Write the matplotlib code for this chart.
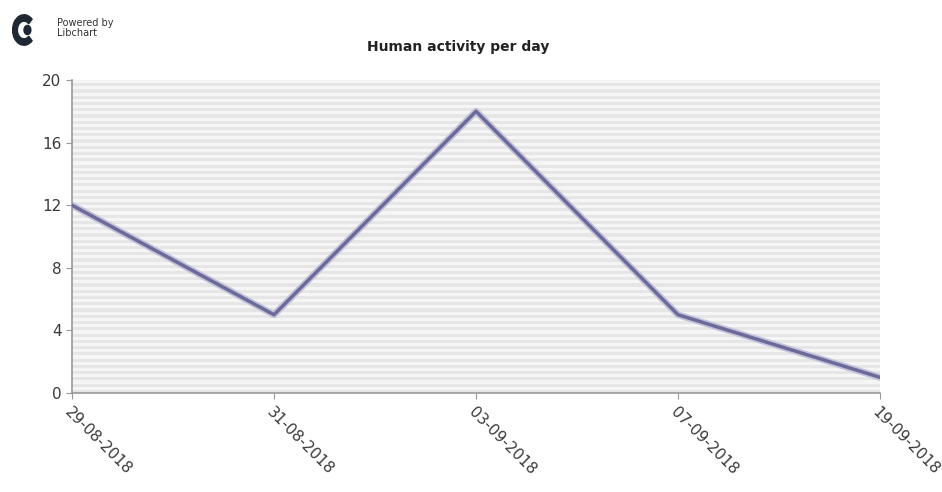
import numpy as np
import matplotlib.pyplot as plt
from matplotlib.patches import Wedge, Circle

# data
dates = ["29-08-2018", "31-08-2018", "03-09-2018", "07-09-2018", "19-09-2018"]
activity = [12, 5, 18, 5, 1]
y_ticks = [0, 4, 8, 12, 16, 20]

fig = plt.figure(figsize=(9.42, 4.92), dpi=100)
ax = fig.add_axes([72 / 942, 1 - 393 / 492, (880 - 72) / 942, (393 - 80) / 492])

# striped background like libchart
step = 0.4
for k in range(int(20 / step)):
    y0 = k * step
    ax.axhspan(y0, y0 + step / 2, color="#e6e6e6", lw=0, zorder=0)
    ax.axhspan(y0 + step / 2, y0 + step, color="#f5f5f5", lw=0, zorder=0)

x = np.arange(len(dates))
# soft shadow then main line
ax.plot(x, activity, color="#c4c3dc", lw=5, solid_capstyle="round", zorder=2)
ax.plot(x, activity, color="#6c6a98", lw=2.5, solid_capstyle="round", zorder=3)

ax.set_xlim(0, len(dates) - 1)
ax.set_ylim(0, 20)
ax.set_yticks(y_ticks)
ax.set_xticks(x)
ax.set_xticklabels(dates, rotation=-45, ha="left", va="top", rotation_mode="anchor")
ax.tick_params(axis="both", colors="#999999", labelcolor="#3a3a3a", labelsize=11, length=4)
ax.tick_params(axis="x", pad=4)

for s in ["top", "right"]:
    ax.spines[s].set_visible(False)
for s in ["left", "bottom"]:
    ax.spines[s].set_color("#999999")
    ax.spines[s].set_linewidth(1.2)

fig.text(458 / 942, 1 - 47 / 492, "Human activity per day", ha="center", va="center",
         fontsize=10, fontweight="bold", color="#222222")

# "Powered by Libchart" logo
lax = fig.add_axes([12 / 942, 1 - 46 / 492, 24 / 942, 32 / 492])
lax.set_xlim(-1.05, 1.05)
lax.set_ylim(-1.05, 1.05)
lax.axis("off")
lax.add_patch(Wedge((0, 0), 1.0, 45, 315, width=0.42, color="#1f2733"))
lax.add_patch(Circle((0.3, 0), 0.3, color="#1f2733"))
fig.text(57 / 942, 1 - 28 / 492, "Powered by\nLibchart", ha="left", va="center",
         fontsize=7, color="#333333", linespacing=1.0)

plt.savefig("out.png", dpi=100)
plt.close()
